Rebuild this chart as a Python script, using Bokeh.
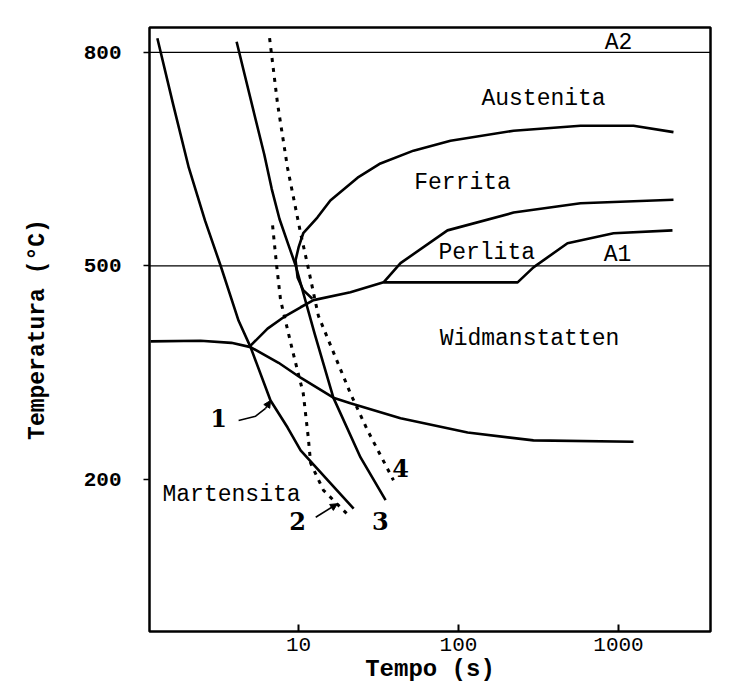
from bokeh.plotting import figure
from bokeh.models import FixedTicker, Arrow, NormalHead, Span
from bokeh.core.properties import value
from bokeh.embed import file_html
from bokeh.resources import INLINE

# ---- data (time in s, temperature in °C) ----
c1_t = [1.31, 1.64, 2.06, 2.60, 3.25, 4.22, 5.01, 6.68, 8.54, 10.3, 15.2, 22.1]
c1_T = [820, 728, 638, 564, 501, 423, 386, 311, 273, 241, 199, 159]

c3_t = [4.10, 4.60, 5.40, 6.10, 6.80, 7.60, 8.60, 9.58, 12.6, 16.5, 24.4, 35.0]
c3_T = [815, 769, 705, 657, 608, 566, 531, 501, 405, 315, 231, 171]

c2_t = [6.88, 7.29, 7.72, 9.17, 10.7, 11.5, 11.9, 14.3, 21.1]
c2_T = [557, 501, 452, 381, 321, 259, 223, 185, 147]

c4_t = [6.59, 7.39, 8.53, 10.3, 11.4, 13.3, 21.1, 27.0, 39.2]
c4_T = [820, 728, 638, 546, 501, 430, 321, 269, 199]

ferr_t = [12.2, 10.7, 9.86, 9.58, 10.0, 10.7, 13.1, 15.8, 23.4, 32.5, 52.3, 89.1, 221, 579, 1241, 2207]
ferr_T = [454, 466, 484, 508, 526, 546, 568, 592, 624, 644, 662, 676, 690, 697, 697, 688]

perl_t = [34.0, 43.4, 85.3, 221, 579, 2207]
perl_T = [477, 504, 550, 575, 588, 593]

wid_t = [5.01, 6.40, 8.06, 10.3, 12.4, 21.1, 34.0, 234, 294, 480, 931, 2175]
wid_T = [388, 412, 428, 442, 452, 463, 477, 477, 498, 532, 546, 550]

low_t = [1.19, 2.44, 3.80, 5.01, 7.50, 10.3, 16.5, 21.1, 43.4, 114, 294, 1241]
low_T = [394, 395, 392, 386, 364, 343, 315, 307, 286, 266, 255, 253]

A2_T = 800
A1_T = 500

x_ticks = [10, 100, 1000]
x_tick_labels = ["10", "100", "1000"]
y_ticks = [200, 500, 800]
y_tick_labels = ["200", "500", "800"]

region_labels = ["A2", "Austenita", "Ferrita", "Perlita", "A1", "Widmanstatten", "Martensita"]
region_t = [1000, 340, 106, 150, 986, 278, 3.81]
region_T = [813, 735, 616, 518, 515, 397, 178]

curve_labels = ["1", "2", "3", "4"]
curve_lab_t = [3.16, 9.86, 32.5, 43.4]
curve_lab_T = [287, 142, 142, 216]

arrow1_t = [4.22, 5.39, 6.22, 6.68]
arrow1_T = [283, 289, 300, 311]
arrow2_t = [12.8, 17.5]
arrow2_T = [147, 166]

FONT = "Liberation Mono"

p = figure(width=756, height=685, x_axis_type="log",
           x_range=(1.17, 3760), y_range=(-13.5, 835),
           output_backend="svg", toolbar_location=None,
           min_border_left=149, min_border_right=46,
           min_border_top=27, min_border_bottom=54)

p.background_fill_color = "white"
p.border_fill_color = "white"
p.outline_line_color = "black"
p.outline_line_width = 2.5
p.xgrid.visible = False
p.ygrid.visible = False

# axes
xa = p.xaxis[0]
xa.ticker = FixedTicker(ticks=x_ticks, minor_ticks=[])
xa.major_label_overrides = {float(t): l for t, l in zip(x_ticks, x_tick_labels)}
xa.major_tick_in = 7
xa.major_tick_out = 0
xa.major_tick_line_width = 2
xa.minor_tick_line_color = None
xa.axis_line_color = None
xa.major_label_text_font = FONT
xa.major_label_text_font_size = "21px"
xa.major_label_text_color = "black"
xa.major_label_standoff = 6
xa.axis_label = "Tempo (s)"
xa.axis_label_text_font = FONT
xa.axis_label_text_font_size = "24px"
xa.axis_label_text_font_style = "bold"
xa.axis_label_text_color = "black"
xa.axis_label_standoff = 2

ya = p.yaxis[0]
ya.ticker = FixedTicker(ticks=y_ticks, minor_ticks=[])
ya.major_label_overrides = {t: l for t, l in zip(y_ticks, y_tick_labels)}
ya.major_tick_in = 0
ya.major_tick_out = 6
ya.major_tick_line_width = 1.5
ya.minor_tick_line_color = None
ya.axis_line_color = None
ya.major_label_text_font = FONT
ya.major_label_text_font_size = "21px"
ya.major_label_text_font_style = "bold"
ya.major_label_text_color = "black"
ya.major_label_standoff = 22
ya.major_label_orientation = "horizontal"
ya.axis_label = "Temperatura (°C)"
ya.axis_label_text_font = FONT
ya.axis_label_text_font_size = "23px"
ya.axis_label_text_font_style = "bold"
ya.axis_label_text_color = "black"
ya.axis_label_standoff = 30

# reference lines A2 and A1
p.add_layout(Span(location=A2_T, dimension="width", line_color="black", line_width=1.3))
p.add_layout(Span(location=A1_T, dimension="width", line_color="black", line_width=1.3))

# phase boundaries
for tt, TT in [(ferr_t, ferr_T), (perl_t, perl_T), (wid_t, wid_T), (low_t, low_T)]:
    p.line(tt, TT, line_color="black", line_width=2.6, line_join="round")

# cooling curves
p.line(c1_t, c1_T, line_color="black", line_width=2.6, line_join="round")
p.line(c3_t, c3_T, line_color="black", line_width=2.6, line_join="round")
p.line(c2_t, c2_T, line_color="black", line_width=3, line_dash="4 6")
p.line(c4_t, c4_T, line_color="black", line_width=3, line_dash="4 6")

# arrows for labels 1 and 2
p.line(arrow1_t[:-1], arrow1_T[:-1], line_color="black", line_width=1.6)
p.add_layout(Arrow(end=NormalHead(size=7, fill_color="black", line_color="black"),
                   x_start=arrow1_t[-2], y_start=arrow1_T[-2],
                   x_end=arrow1_t[-1], y_end=arrow1_T[-1],
                   line_color="black", line_width=1.6))
p.add_layout(Arrow(end=NormalHead(size=7, fill_color="black", line_color="black"),
                   x_start=arrow2_t[0], y_start=arrow2_T[0],
                   x_end=arrow2_t[1], y_end=arrow2_T[1],
                   line_color="black", line_width=1.6))

# region labels
p.text(region_t, region_T, text=region_labels, text_font=value(FONT),
       text_font_size="23px", text_align="center", text_baseline="middle",
       text_color="black")

# curve numbers
p.text(curve_lab_t, curve_lab_T, text=curve_labels, text_font=value("DejaVu Serif"),
       text_font_size="24px", text_font_style="bold", text_align="center",
       text_baseline="middle", text_color="black")

open("out.html", "w").write(file_html(p, INLINE))
